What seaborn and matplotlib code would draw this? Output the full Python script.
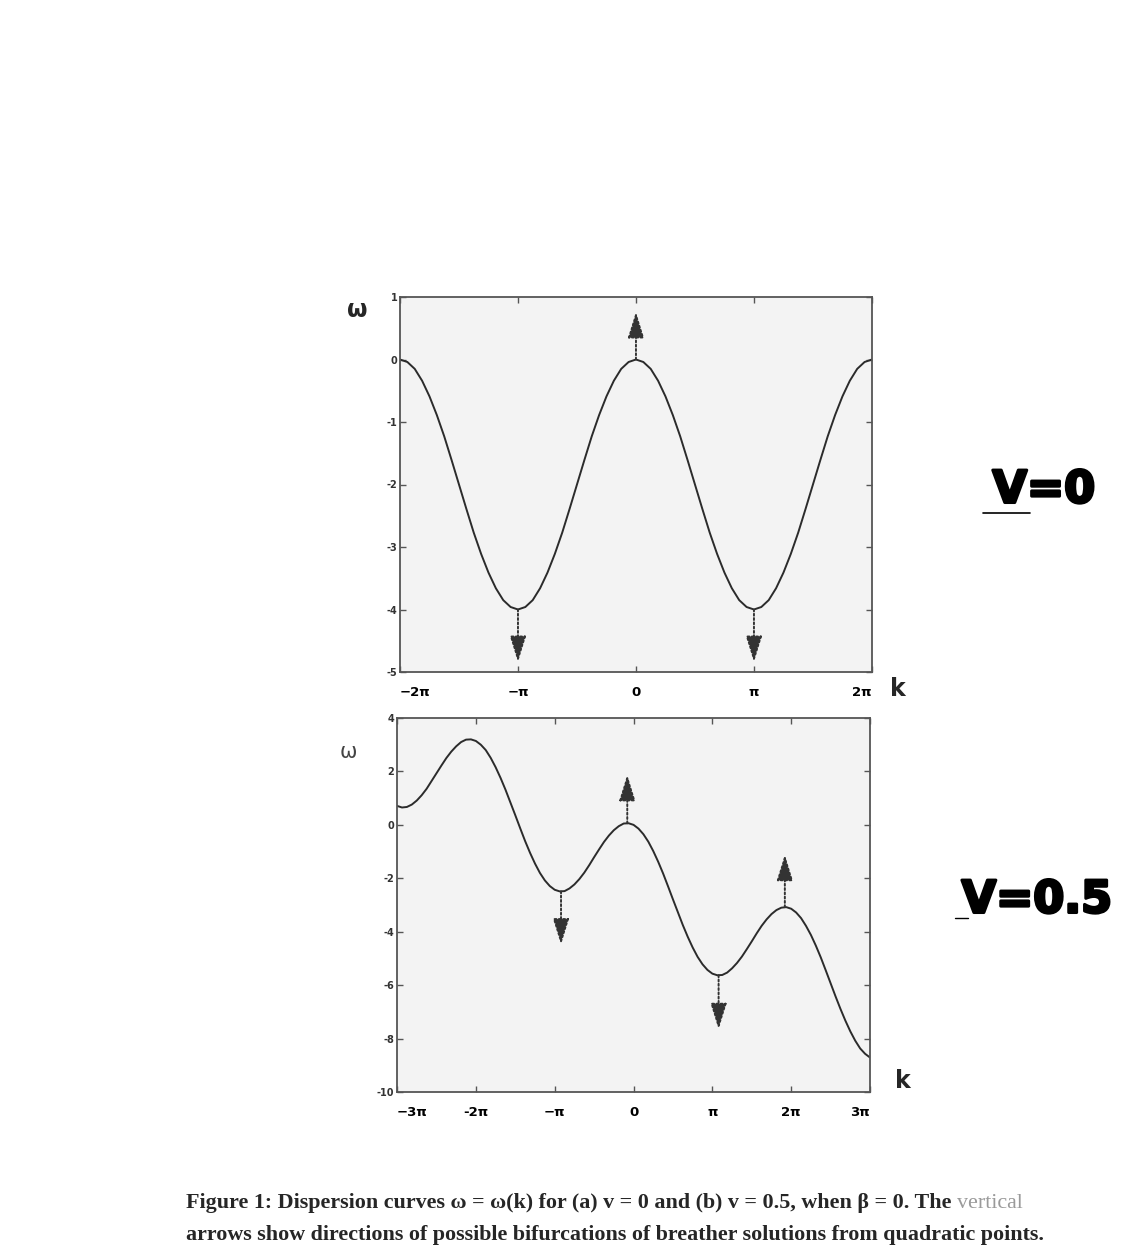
import numpy as np
import pandas as pd
import seaborn as sns
import matplotlib
matplotlib.use("Agg")
import matplotlib.pyplot as plt
import matplotlib.patheffects as pe
from matplotlib.lines import Line2D

# --------------------------------------------------------------------
# data read off the picture (k sampled every pi/16)
# --------------------------------------------------------------------
n_top = np.arange(-32, 33)
omega_top = [0.00, -0.04, -0.15, -0.34, -0.59, -0.89, -1.23, -1.61, -2.00,
             -2.39, -2.77, -3.11, -3.41, -3.66, -3.85, -3.96, -4.00,
             -3.96, -3.85, -3.66, -3.41, -3.11, -2.77, -2.39, -2.00,
             -1.61, -1.23, -0.89, -0.59, -0.34, -0.15, -0.04, 0.00,
             -0.04, -0.15, -0.34, -0.59, -0.89, -1.23, -1.61, -2.00,
             -2.39, -2.77, -3.11, -3.41, -3.66, -3.85, -3.96, -4.00,
             -3.96, -3.85, -3.66, -3.41, -3.11, -2.77, -2.39, -2.00,
             -1.61, -1.23, -0.89, -0.59, -0.34, -0.15, -0.04, 0.00]

n_bot = np.arange(-48, 49)
omega_bot = [0.71, 0.65, 0.67, 0.76, 0.91, 1.11, 1.35, 1.64, 1.93,
             2.22, 2.50, 2.74, 2.94, 3.10, 3.19, 3.20, 3.14,
             3.00, 2.80, 2.51, 2.16, 1.76, 1.32, 0.84, 0.36,
             -0.13, -0.61, -1.05, -1.45, -1.80, -2.08, -2.29, -2.43,
             -2.49, -2.48, -2.38, -2.23, -2.03, -1.79, -1.51, -1.21,
             -0.92, -0.64, -0.40, -0.20, -0.05, 0.05, 0.06, 0.00,
             -0.14, -0.35, -0.63, -0.98, -1.38, -1.82, -2.30, -2.79,
             -3.27, -3.75, -4.19, -4.59, -4.94, -5.22, -5.43, -5.57,
             -5.63, -5.62, -5.53, -5.37, -5.17, -4.93, -4.65, -4.36,
             -4.06, -3.78, -3.54, -3.34, -3.19, -3.10, -3.08, -3.14,
             -3.28, -3.49, -3.78, -4.12, -4.52, -4.96, -5.44, -5.93,
             -6.42, -6.89, -7.33, -7.73, -8.08, -8.37, -8.57, -8.71]

# arrows: position, start (curve extremum), tip
arr_top_k = [0.0, -np.pi, np.pi]
arr_top_from = [0.0, -4.0, -4.0]
arr_top_to = [0.76, -4.84, -4.84]

arr_bot_k = [-0.25, -2.89, 3.39, 6.03]
arr_bot_from = [0.06, -2.49, -5.63, -3.08]
arr_bot_to = [1.87, -4.48, -7.65, -1.12]

top_ticklabels = ['\u22122\u03c0', '\u2212\u03c0', '0', '\u03c0', '2\u03c0']
bot_ticklabels = ['\u22123\u03c0', '-2\u03c0', '\u2212\u03c0', '0', '\u03c0', '2\u03c0', '3\u03c0']

df_top = pd.DataFrame({'k': n_top * np.pi / 16, 'omega': omega_top})
df_bot = pd.DataFrame({'k': n_bot * np.pi / 16, 'omega': omega_bot})

# --------------------------------------------------------------------
sns.set_style("ticks")
plt.rcParams['font.family'] = ['DejaVu Sans']

fig = plt.figure(figsize=(11.28, 12.5), dpi=100)
ax1 = fig.add_axes([0.3546, 0.4624, 0.4184, 0.300])
ax2 = fig.add_axes([0.3520, 0.1264, 0.4193, 0.2992])

line_col = '#2b2b2b'


def style_axes(ax, xlim, ylim, yticks, xticks, xlabels):
    ax.set_facecolor('#f3f3f3')
    ax.set_xlim(*xlim)
    ax.set_ylim(*ylim)
    ax.set_yticks(yticks)
    ax.set_yticklabels([str(t) for t in yticks], fontsize=7, fontweight='bold')
    ax.set_xticks(xticks)
    ax.set_xticklabels(xlabels, fontsize=9.5, fontweight='bold')
    labs = ax.get_xticklabels()
    labs[0].set_ha('left')
    labs[-1].set_ha('right')
    ax.tick_params(direction='in', top=True, right=True, length=4, width=1,
                   colors='#555555', labelcolor='black')
    ax.tick_params(axis='x', pad=10)
    ax.tick_params(axis='y', pad=2, labelcolor='#333333')
    for s in ax.spines.values():
        s.set_visible(True)
        s.set_color('#555555')
        s.set_linewidth(1.3)
    ax.set_xlabel('')
    ax.set_ylabel('')


def draw_arrows(ax, ks, y0s, y1s):
    for k, y0, y1 in zip(ks, y0s, y1s):
        ax.annotate('', xy=(k, y1), xytext=(k, y0),
                    arrowprops=dict(arrowstyle='-|>,head_length=1.6,head_width=0.5',
                                    linestyle=(0, (1, 1.2)), color='#333333',
                                    lw=1.4, shrinkA=0, shrinkB=0))


# top panel, v = 0
sns.lineplot(data=df_top, x='k', y='omega', ax=ax1, color=line_col, lw=1.4)
style_axes(ax1, (-2 * np.pi, 2 * np.pi), (-5, 1), [1, 0, -1, -2, -3, -4, -5],
           [-2 * np.pi, -np.pi, 0, np.pi, 2 * np.pi], top_ticklabels)
draw_arrows(ax1, arr_top_k, arr_top_from, arr_top_to)
ax1.text(-0.09, 0.965, '\u03c9', transform=ax1.transAxes, fontsize=17,
         fontweight='bold', ha='center', va='center')
ax1.text(1.055, -0.045, 'k', transform=ax1.transAxes, fontsize=17,
         fontweight='bold', ha='center', va='center')

# bottom panel, v = 0.5
sns.lineplot(data=df_bot, x='k', y='omega', ax=ax2, color=line_col, lw=1.4)
style_axes(ax2, (-3 * np.pi, 3 * np.pi), (-10, 4), [4, 2, 0, -2, -4, -6, -8, -10],
           [-3 * np.pi, -2 * np.pi, -np.pi, 0, np.pi, 2 * np.pi, 3 * np.pi],
           bot_ticklabels)
draw_arrows(ax2, arr_bot_k, arr_bot_from, arr_bot_to)
ax2.text(-0.104, 0.909, '\u03c9', transform=ax2.transAxes, fontsize=15,
         ha='center', va='center', color='#444444')
ax2.text(1.07, 0.03, 'k', transform=ax2.transAxes, fontsize=17,
         fontweight='bold', ha='center', va='center')

# handwritten annotations
marker = [pe.withStroke(linewidth=2.2, foreground='black')]
fig.text(1044 / 1128, 1 - 490 / 1250, 'V=0', fontsize=32, fontweight='heavy',
         ha='center', va='center', color='black', path_effects=marker)
fig.add_artist(Line2D([983 / 1128, 1030 / 1128], [1 - 513 / 1250, 1 - 513 / 1250],
                      color='black', lw=1.2))
fig.text(1037 / 1128, 1 - 900 / 1250, 'V=0.5', fontsize=32, fontweight='heavy',
         ha='center', va='center', color='black', path_effects=marker)
fig.add_artist(Line2D([955 / 1128, 968 / 1128], [1 - 918 / 1250, 1 - 918 / 1250],
                      color='black', lw=1.0))

# caption
cap_font = ['Liberation Serif', 'DejaVu Serif']
t1 = fig.text(186 / 1128, 1 - 1203 / 1250,
              'Figure 1: Dispersion curves \u03c9 = \u03c9(k) for (a) v = 0 and (b) '
              'v = 0.5, when \u03b2 = 0. The ',
              fontsize=15.8, fontweight='bold', family=cap_font, va='center')
fig.text(186 / 1128, 1 - 1235 / 1250,
         'arrows show directions of possible bifurcations of breather solutions '
         'from quadratic points.',
         fontsize=15.8, fontweight='bold', family=cap_font, va='center')
fig.canvas.draw()
bb = t1.get_window_extent()
fig.text(bb.x1 / fig.bbox.width, 1 - 1203 / 1250, 'vertical', fontsize=15.8,
         color='#9a9a9a', family=cap_font, va='center')

fig.savefig('out.png', dpi=100)
